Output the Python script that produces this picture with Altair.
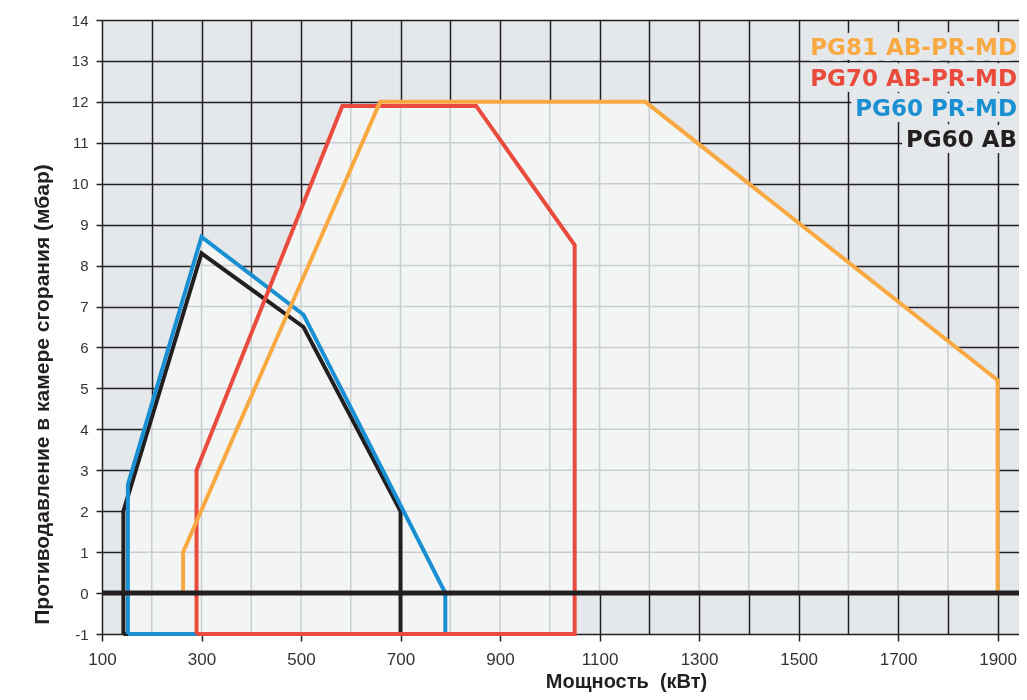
import altair as alt
import pandas as pd

# ---- data ----
SERIES = ["PG60 AB", "PG60 PR-MD", "PG70 AB-PR-MD", "PG81 AB-PR-MD"]
COLORS = ["#231f20", "#1a8fd1", "#e94b3c", "#f9a942"]
BASES = [-1, -1, -1, 0]

PG60_AB_X = [143, 143, 300, 505, 700, 700, 143]
PG60_AB_Y = [-1, 2, 8.3, 6.5, 2, -1, -1]
PG60_PRMD_X = [152, 152, 300, 505, 790, 790, 152]
PG60_PRMD_Y = [-1, 2.65, 8.7, 6.8, 0, -1, -1]
PG70_X = [290, 290, 583, 852, 1050, 1050, 290]
PG70_Y = [-1, 3, 11.9, 11.9, 8.5, -1, -1]
PG81_X = [263, 263, 659, 1192, 1900, 1900, 263]
PG81_Y = [0, 1, 12, 12, 5.2, 0, 0]

X_GRID = list(range(100, 2000, 100))
Y_GRID = list(range(-1, 15))

XS = [PG60_AB_X, PG60_PRMD_X, PG70_X, PG81_X]
YS = [PG60_AB_Y, PG60_PRMD_Y, PG70_Y, PG81_Y]

rows = []
for s, xs, ys, b in zip(SERIES, XS, YS, BASES):
    for i, (x, y) in enumerate(zip(xs, ys)):
        rows.append({"series": s, "i": i, "x": x, "y": y, "base": b})
df = pd.DataFrame(rows)

BG = "#e5e8eb"
INNER = "#f3f5f5"
LIGHT_GRID = "#c9ced2"
DARK = "#231f20"

W, H = 917, 614
xscale = alt.Scale(domain=[100, 1943], nice=False, zero=False)
yscale = alt.Scale(domain=[-1, 14], nice=False, zero=False)

xaxis = alt.Axis(
    values=X_GRID,
    labelExpr="(datum.value - 100) % 200 == 0 ? datum.label : ''",
    format="d",
    grid=True, gridColor=DARK, gridWidth=1.5,
    domain=False,
    tickColor=DARK, tickWidth=1.5, tickSize=7,
    tickOpacity={"condition": {"test": "(datum.value - 100) % 200 == 0", "value": 1}, "value": 0},
    labelFont="Liberation Sans", labelFontSize=17, labelColor="#333333",
    labelPadding=10, labelFlush=False, labelOverlap=False,
    title="Мощность\u00a0\u00a0(кВт)", titleFont="Liberation Sans", titleFontSize=20,
    titleFontWeight="bold", titleColor="#231f20",
    titleX=524, titleY=47, titleAlign="center", titleBaseline="middle",
)
yaxis = alt.Axis(
    values=Y_GRID, format="d",
    labelExpr="replace(datum.label, '\u2212', '-')",
    grid=True, gridColor=DARK, gridWidth=1.5,
    domain=False,
    tickColor=DARK, tickWidth=1.5, tickSize=6,
    labelFont="Liberation Sans", labelFontSize=15, labelColor="#333333",
    labelPadding=8, labelFlush=False, labelOverlap=False,
    title="Противодавление в камере сгорания (мбар)", titleFont="Liberation Sans",
    titleFontSize=21, titleFontWeight="bold", titleColor="#231f20",
    titleX=-60, titleY=374, titleAngle=-90, titleAlign="center", titleBaseline="middle",
)

base = alt.Chart(df)

fills = base.transform_filter("datum.y > datum.base").mark_area(
    color=INNER, opacity=1, interpolate="linear"
).encode(
    x=alt.X("x:Q", scale=xscale, axis=xaxis),
    y=alt.Y("y:Q", scale=yscale, axis=yaxis),
    y2="base:Q",
    detail="series:N",
)

vgrid = alt.Chart(pd.DataFrame({"g": X_GRID})).mark_rule(
    color=LIGHT_GRID, strokeWidth=1.5, blend="darken"
).encode(x=alt.X("g:Q", scale=xscale))
hgrid = alt.Chart(pd.DataFrame({"g": Y_GRID})).mark_rule(
    color=LIGHT_GRID, strokeWidth=1.5, blend="darken"
).encode(y=alt.Y("g:Q", scale=yscale))

lines = []
for s, c in zip(SERIES, COLORS):
    lines.append(
        base.transform_filter(alt.datum.series == s).mark_line(
            color=c, strokeWidth=4, strokeJoin="miter"
        ).encode(
            x=alt.X("x:Q", scale=xscale),
            y=alt.Y("y:Q", scale=yscale),
            order="i:Q",
        )
    )

zero = alt.Chart(pd.DataFrame({"z": [0]})).mark_rule(
    color=DARK, strokeWidth=5
).encode(y=alt.Y("z:Q", scale=yscale))

# legend-like labels at the top right (top to bottom: PG81, PG70, PG60 PR-MD, PG60 AB)
legend_layers = []
for k, (s, c) in enumerate(zip(SERIES[::-1], COLORS[::-1])):
    ypix = 35 + k * 30.7
    ldf = pd.DataFrame({"t": [s]})
    halo = alt.Chart(ldf).mark_text(
        font="DejaVu Sans", fontWeight="bold", fontSize=23, align="right",
        baseline="alphabetic", fill=BG, stroke=BG, strokeWidth=12,
        strokeJoin="round",
    ).encode(text="t:N", x=alt.value(W - 2), y=alt.value(ypix))
    txt = alt.Chart(ldf).mark_text(
        font="DejaVu Sans", fontWeight="bold", fontSize=23, align="right",
        baseline="alphabetic", fill=c,
    ).encode(text="t:N", x=alt.value(W - 2), y=alt.value(ypix))
    legend_layers += [halo, txt]

chart = alt.layer(
    fills, vgrid, hgrid, *legend_layers, *lines, zero
).properties(
    width=W, height=H,
    padding={"left": 94, "top": 12, "right": 0, "bottom": 58},
    autosize=alt.AutoSizeParams(type="none"),
    background="white",
).configure_view(
    fill=BG, stroke=None
)

chart.save("out.html", embed_options={"renderer": "svg", "actions": False})
